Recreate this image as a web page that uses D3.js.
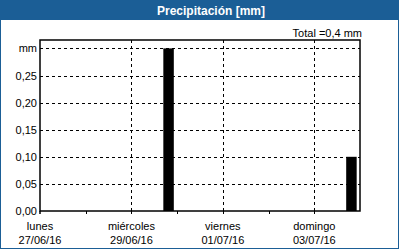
<!DOCTYPE html>
<html><head><meta charset="utf-8">
<script src="https://cdn.jsdelivr.net/npm/d3@7"></script>
<style>html,body{margin:0;padding:0;background:#fff;}svg{display:block;font-family:"Liberation Sans",Arial,sans-serif;}</style>
</head><body>
<svg id="c" width="400" height="250"></svg>
<script>
const title = "Precipitación [mm]";
const totalLabel = "Total =0,4 mm";
const barTimes = ["2016-06-29T19:30:00Z", "2016-07-03T19:30:00Z"];
const barValues = [0.30, 0.10];
const barHours = 5.5;
const yTicks = [0, 0.05, 0.10, 0.15, 0.20, 0.25, 0.30];
const yTickLabels = ["0,00", "0,05", "0,10", "0,15", "0,20", "0,25", "mm"];
const xTickDays = ["2016-06-27","2016-06-28","2016-06-29","2016-06-30","2016-07-01","2016-07-02","2016-07-03"];
const xLabelDays = ["2016-06-27","2016-06-29","2016-07-01","2016-07-03"];
const xLabelNames = ["lunes","miércoles","viernes","domingo"];
const xLabelDates = ["27/06/16","29/06/16","01/07/16","03/07/16"];
const xDomain = ["2016-06-27","2016-07-04"];
const yMax = 0.3155;

const svg = d3.select("#c");
const blue = "#1b5e96";
const L=40, R=360, T=40, B=211;
const parse = s => new Date(s.length>10 ? s : s+"T00:00:00Z");
const x = d3.scaleUtc().domain(xDomain.map(parse)).range([L,R]);
const y = d3.scaleLinear().domain([0,yMax]).range([B,T]);

// frame
svg.append("rect").attr("x",0.5).attr("y",0.5).attr("width",398).attr("height",248).attr("fill","#fff").attr("stroke",blue);
svg.append("rect").attr("x",0).attr("y",0).attr("width",399).attr("height",20).attr("fill",blue);
svg.append("text").attr("x",211).attr("y",14.5).attr("text-anchor","middle").attr("fill","#fff")
  .attr("font-weight","bold").attr("font-size",12).text(title);
svg.append("text").attr("x",362).attr("y",36.5).attr("text-anchor","end").attr("fill","#000")
  .attr("font-size",11).text(totalLabel);

// grid
const g = svg.append("g");
g.selectAll("line.hg").data(yTicks.filter(d=>d>0)).join("line")
  .attr("x1",L).attr("x2",R).attr("y1",d=>Math.round(y(d))+0.5).attr("y2",d=>Math.round(y(d))+0.5)
  .attr("stroke","#000").attr("stroke-width",1).attr("stroke-dasharray","3,3");
g.selectAll("line.vg").data(xLabelDays.slice(1)).join("line")
  .attr("x1",d=>Math.round(x(parse(d)))+0.5).attr("x2",d=>Math.round(x(parse(d)))+0.5).attr("y1",T).attr("y2",B)
  .attr("stroke","#000").attr("stroke-width",1).attr("stroke-dasharray","3,3");

// bars
const bw = x(new Date(parse(xDomain[0]).getTime()+barHours*3600e3)) - x(parse(xDomain[0]));
svg.selectAll("rect.bar").data(barTimes.map((t,i)=>({t:parse(t),v:barValues[i]}))).join("rect")
  .attr("x",d=>x(d.t)-bw/2).attr("width",bw).attr("y",d=>y(d.v)).attr("height",d=>B-y(d.v)).attr("fill","#000");

// axes frame
svg.append("rect").attr("x",L).attr("y",T).attr("width",R-L).attr("height",B-T).attr("fill","none").attr("stroke","#000").attr("stroke-width",1.5);
svg.append("line").attr("x1",L).attr("x2",L).attr("y1",B).attr("y2",B+3).attr("stroke","#000").attr("stroke-width",1.5);
svg.selectAll("line.xt").data(xTickDays.slice(1)).join("line")
  .attr("x1",d=>Math.round(x(parse(d)))+0.5).attr("x2",d=>Math.round(x(parse(d)))+0.5).attr("y1",B).attr("y2",B+3)
  .attr("stroke","#000").attr("stroke-width",1);

// y labels
svg.selectAll("text.yl").data(yTicks).join("text")
  .attr("x",37).attr("y",d=>y(d)+4).attr("text-anchor","end").attr("font-size",11).attr("fill","#000")
  .text((d,i)=>yTickLabels[i]);
// x labels
const xl = svg.selectAll("g.xl").data(xLabelDays).join("g").attr("transform",d=>`translate(${x(parse(d))},0)`);
xl.append("text").attr("y",229.5).attr("text-anchor","middle").attr("font-size",11).text((d,i)=>xLabelNames[i]);
xl.append("text").attr("y",244).attr("text-anchor","middle").attr("font-size",11).text((d,i)=>xLabelDates[i]);
</script>
</body></html>
